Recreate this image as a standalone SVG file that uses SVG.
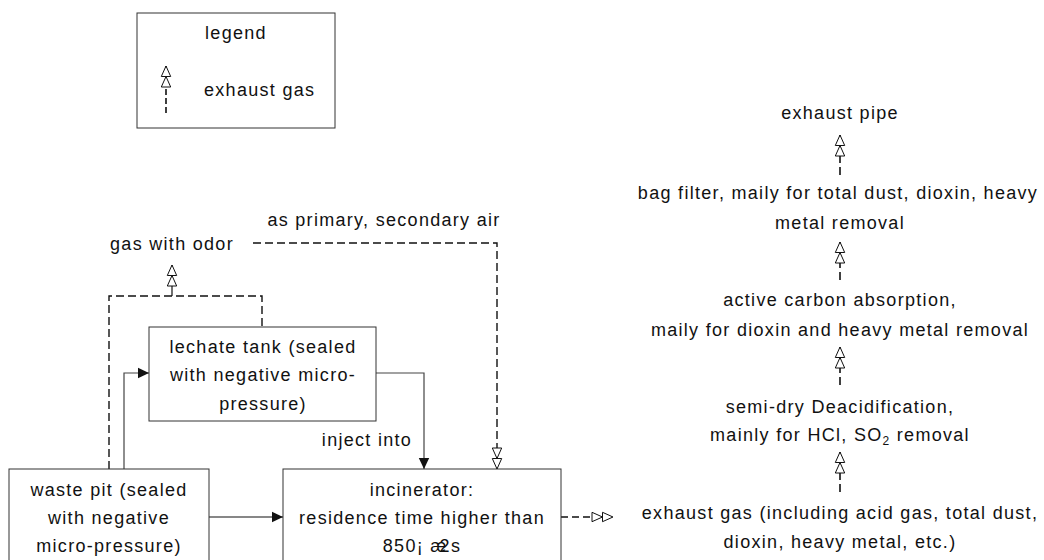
<svg xmlns="http://www.w3.org/2000/svg" width="1044" height="560" viewBox="0 0 1044 560">
<defs>
<style>
text{font-family:"Liberation Sans",Arial,sans-serif;font-size:18px;letter-spacing:1.3px;fill:#111}
.c{text-anchor:middle}
.box{fill:#fff;stroke:#333;stroke-width:1}
.ln{fill:none;stroke:#444;stroke-width:1.2}
.dl{fill:none;stroke:#111;stroke-width:1.4;stroke-dasharray:8,4}
.dg{fill:none;stroke:#111;stroke-width:1.6;stroke-dasharray:8,4}
</style>
<marker id="dbl" markerUnits="userSpaceOnUse" markerWidth="24" markerHeight="12" viewBox="0 0 24 12" refX="22" refY="6" orient="auto">
<polygon points="1,1.3 11.5,6 1,10.7" fill="#fff" stroke="#111" stroke-width="1"/>
<polygon points="11.5,1.3 22,6 11.5,10.7" fill="#fff" stroke="#111" stroke-width="1"/>
</marker>
<marker id="fill" markerUnits="userSpaceOnUse" markerWidth="12" markerHeight="12" viewBox="0 0 12 12" refX="11" refY="6" orient="auto">
<polygon points="0,0.8 11,6 0,11.2" fill="#111"/>
</marker>
</defs>
<rect width="1044" height="560" fill="#fff"/>

<g id="legend">
<rect class="box" x="137" y="13" width="198" height="115"/>
<text class="c" x="236" y="39">legend</text>
<path class="dg" d="M166,113 V66" marker-end="url(#dbl)" style="stroke-dasharray:6,3"/>
<text x="204" y="96">exhaust gas</text>
</g>

<g id="connectors">
<path class="dl" d="M253,243 H497 V469" marker-end="url(#dbl)"/>
<path class="dl" d="M109,469 V296 H262 V327"/>
<path class="ln" d="M172,296 V265" marker-end="url(#dbl)" style="stroke:#111"/>
<path class="ln" d="M124,469 V373 H149" marker-end="url(#fill)"/>
<path class="ln" d="M376,373 H424 V469" marker-end="url(#fill)"/>
<path class="ln" d="M209,517 H283" marker-end="url(#fill)" style="stroke:#111"/>
<path class="dl" d="M561,517 H613" marker-end="url(#dbl)" style="stroke-dasharray:7,4"/>
<path class="dg" d="M840,175 V135" marker-end="url(#dbl)"/>
<path class="dg" d="M840,280 V242" marker-end="url(#dbl)"/>
<path class="dg" d="M840,385 V347" marker-end="url(#dbl)"/>
<path class="dg" d="M840,492 V452" marker-end="url(#dbl)"/>
</g>

<g id="labels">
<text class="c" x="384" y="226">as primary, secondary air</text>
<text class="c" x="172" y="250">gas with odor</text>
<text class="c" x="367" y="446">inject into</text>
</g>

<g id="lechate-tank">
<rect class="box" x="149" y="327" width="227" height="94"/>
<text class="c" x="263" y="353">lechate tank (sealed</text>
<text class="c" x="263" y="381">with negative micro-</text>
<text class="c" x="263" y="410">pressure)</text>
</g>

<g id="waste-pit">
<rect class="box" x="9" y="469" width="200" height="110"/>
<text class="c" x="109" y="496">waste pit (sealed</text>
<text class="c" x="109" y="524">with negative</text>
<text class="c" x="109" y="552">micro-pressure)</text>
</g>

<g id="incinerator">
<rect class="box" x="283" y="469" width="278" height="110"/>
<text class="c" x="422" y="496">incinerator:</text>
<text class="c" x="422" y="524">residence time higher than</text>
<text class="c" x="422" y="552">850¡  æ<tspan dx="-8">2s</tspan></text>
</g>

<g id="exhaust-pipe">
<text class="c" x="840" y="119">exhaust pipe</text>
</g>
<g id="bag-filter">
<text class="c" x="838" y="199">bag filter, maily for total dust, dioxin, heavy</text>
<text class="c" x="840" y="229">metal removal</text>
</g>
<g id="active-carbon">
<text class="c" x="840" y="306">active carbon absorption,</text>
<text class="c" x="840" y="336">maily for dioxin and heavy metal removal</text>
</g>
<g id="deacidification">
<text class="c" x="840" y="413">semi-dry Deacidification,</text>
<text class="c" x="840" y="441">mainly for HCl, SO<tspan font-size="12" dy="4">2</tspan><tspan dy="-4"> removal</tspan></text>
</g>
<g id="exhaust-gas">
<text class="c" x="840" y="519">exhaust gas (including acid gas, total dust,</text>
<text class="c" x="840" y="548">dioxin, heavy metal, etc.)</text>
</g>
</svg>
